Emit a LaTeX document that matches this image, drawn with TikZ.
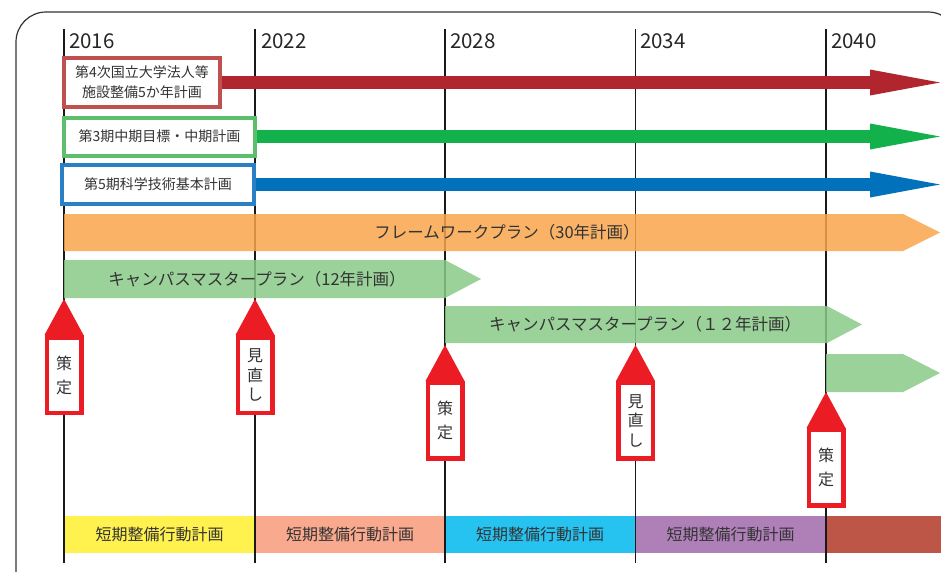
\documentclass[tikz,border=0pt]{standalone}
\usepackage{fontspec}
\setmainfont{Noto Sans CJK JP}
\usetikzlibrary{arrows.meta}
\definecolor{frame}{HTML}{333333}
\definecolor{txt}{HTML}{333333}
\definecolor{boxred}{HTML}{C0504D}
\definecolor{arrowred}{HTML}{B1252F}
\definecolor{boxgreen}{HTML}{5DBE6B}
\definecolor{arrowgreen}{HTML}{13B14B}
\definecolor{boxblue}{HTML}{2B80C5}
\definecolor{arrowblue}{HTML}{0071BA}
\definecolor{orangeband}{HTML}{F8A54B}
\definecolor{greenband}{HTML}{88CA88}
\definecolor{markred}{HTML}{EC1C24}
\definecolor{shortyellow}{HTML}{FFF24F}
\definecolor{shortsalmon}{HTML}{F8A98E}
\definecolor{shortcyan}{HTML}{26C3F1}
\definecolor{shortpurple}{HTML}{AF80B8}
\definecolor{shortbrick}{HTML}{BD5646}

\begin{document}
\begin{tikzpicture}[x=1pt,y=-1pt,
    plan/.style={draw, line width=4pt, fill=white, inner sep=0pt, align=center, text=txt, font=\fontsize{14}{20}\selectfont},
    longarrow/.style={line width=13.5pt, -{Triangle[length=70pt,width=26pt,line width=0pt]}},
    timeline/.style={line width=1.4pt, draw=black!90},
    year/.style={anchor=base west, inner sep=0pt, text=black!85, font=\fontsize{20.5}{20}\selectfont},
    band/.style={fill opacity=0.85},
    bandtext/.style={text=txt, inner sep=0pt, font=\fontsize{16.5}{16}\selectfont},
    shortbar/.style={inner sep=0pt, minimum height=37pt, text=txt, font=\fontsize{16}{16}\selectfont},
    kickoff/.style={draw=markred, line width=4.5pt, fill=white, inner sep=0pt, minimum width=34.5pt, align=center, text=txt}]
    \useasboundingbox (0,0) rectangle (941,571);
    \clip (0,0) rectangle (941,571);
    \draw[frame, line width=1.2pt, rounded corners=30pt] (16,12) rectangle (958,600);

    % short-term plans along the bottom
    \node[shortbar, fill=shortyellow, minimum width=191pt] (short1) at (159.5,534.5) {短期整備行動計画};
    \node[shortbar, fill=shortsalmon, minimum width=190pt] (short2) at (350,534.5) {短期整備行動計画};
    \node[shortbar, fill=shortcyan, minimum width=190pt] (short3) at (540,534.5) {短期整備行動計画};
    \node[shortbar, fill=shortpurple, minimum width=191pt] (short4) at (730.5,534.5) {短期整備行動計画};
    \node[shortbar, fill=shortbrick, minimum width=116pt] (short5) at (884,534.5) {};

    % year lines
    \coordinate (top1) at (64,29);   \coordinate (bot1) at (64,563);
    \coordinate (top2) at (255,29);  \coordinate (bot2) at (255,563);
    \coordinate (top3) at (445,29);  \coordinate (bot3) at (445,563);
    \coordinate (top4) at (635.5,29); \coordinate (bot4) at (635.5,563);
    \coordinate (top5) at (826,29);  \coordinate (bot5) at (826,563);
    \draw[timeline] (top1) -- (bot1);
    \draw[timeline] (top2) -- (bot2);
    \draw[timeline] (top3) -- (bot3);
    \draw[timeline] (top4) -- (bot4);
    \draw[timeline] (top5) -- (bot5);
    \node[year] (y2016) at (69,48) {2016};
    \node[year] (y2022) at (261,48) {2022};
    \node[year] (y2028) at (450,48) {2028};
    \node[year] (y2034) at (640,48) {2034};
    \node[year] (y2040) at (831,48) {2040};

    % framework and campus master plans
    \fill[orangeband, band] (64,214) -- (903,214) -- (940,232.5) -- (903,251) -- (64,251) -- cycle;
    \node[bandtext] (framework) at (507,232) {フレームワークプラン（30年計画）};
    \fill[greenband, band] (64,260) -- (445,260) -- (481,279) -- (445,298) -- (64,298) -- cycle;
    \node[bandtext] (campus1) at (257,279) {キャンパスマスタープラン（12年計画）};
    \fill[greenband, band] (445,306) -- (827,306) -- (862,324.5) -- (827,343) -- (445,343) -- cycle;
    \node[bandtext] (campus2) at (645,324) {キャンパスマスタープラン（１２年計画）};
    \fill[greenband, band] (826,354) -- (903,354) -- (940,373) -- (903,392) -- (826,392) -- cycle;

    % national plans
    \coordinate (tip4) at (940,82.5);
    \coordinate (tip3) at (940,136.5);
    \coordinate (tip5) at (940,184.5);
    \node[plan, draw=boxred, minimum width=156pt, minimum height=49pt] (plan4) at (142,82.5) {第4次国立大学法人等\\施設整備5か年計画};
    \node[plan, draw=boxgreen, minimum width=191pt, minimum height=38pt] (plan3) at (159.5,136.5) {第3期中期目標・中期計画};
    \node[plan, draw=boxblue, minimum width=192pt, minimum height=39pt] (plan5) at (158,184.5) {第5期科学技術基本計画};
    \draw[longarrow, arrowred] (plan4.east) -- (tip4);
    \draw[longarrow, arrowgreen] (plan3.east) -- (tip3);
    \draw[longarrow, arrowblue] (plan5.east) -- (tip5);

    % red markers
    \fill[markred] (64,299) -- (83.5,335) -- (44.5,335) -- cycle;
    \node[kickoff, minimum height=75.5pt, font=\fontsize{16}{24}\selectfont] (mark1) at (64,375) {策\\定};
    \fill[markred] (255,299) -- (274.5,335) -- (235.5,335) -- cycle;
    \node[kickoff, minimum height=75.5pt, font=\fontsize{16}{19.5}\selectfont] (mark2) at (255,375) {見\\直\\し};
    \fill[markred] (445,345) -- (464.5,381) -- (425.5,381) -- cycle;
    \node[kickoff, minimum height=75.5pt, font=\fontsize{16}{24}\selectfont] (mark3) at (445,420.5) {策\\定};
    \fill[markred] (635.5,345) -- (655,381) -- (616,381) -- cycle;
    \node[kickoff, minimum height=75.5pt, font=\fontsize{16}{19.5}\selectfont] (mark4) at (635.5,420.5) {見\\直\\し};
    \fill[markred] (826,392) -- (845.5,428) -- (806.5,428) -- cycle;
    \node[kickoff, minimum height=75.5pt, font=\fontsize{16}{24}\selectfont] (mark5) at (826,467.5) {策\\定};
\end{tikzpicture}
\end{document}
